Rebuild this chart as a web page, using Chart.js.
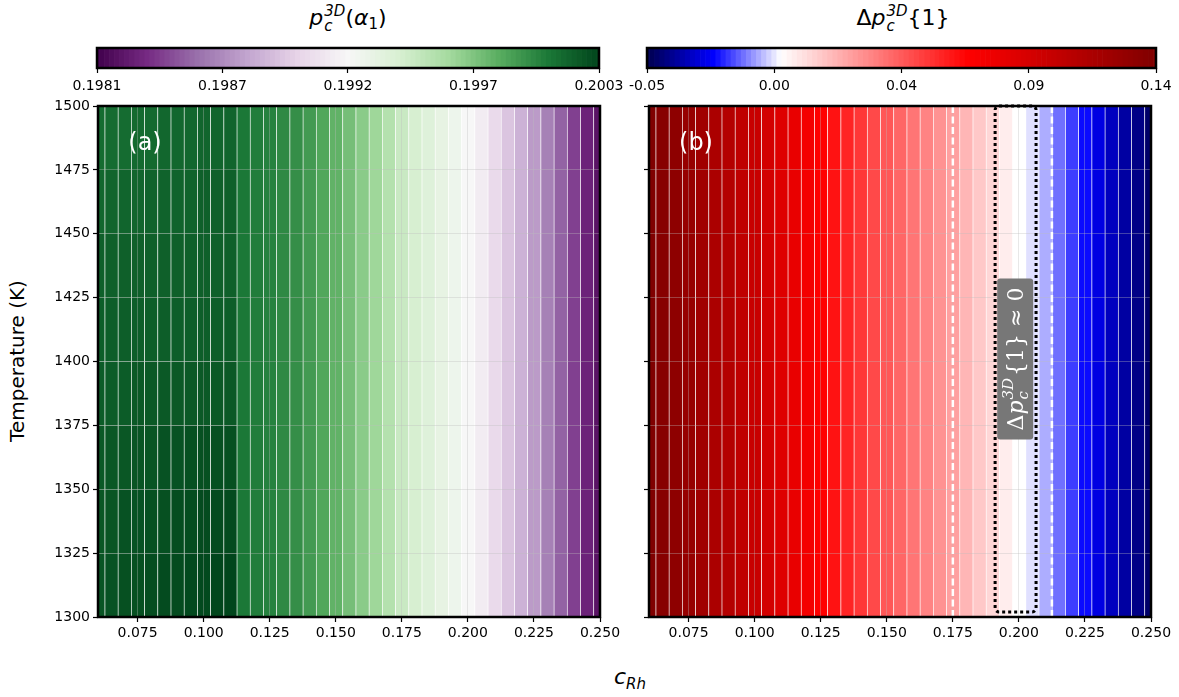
<!DOCTYPE html>
<html>
<head>
<meta charset="utf-8">
<title>p_c 3D maps</title>
<script src="https://cdn.jsdelivr.net/npm/chart.js@4.4.1/dist/chart.umd.min.js"></script>
<style>
  body { margin:0; background:#fff; }
  #page { position:relative; width:1179px; height:697px; overflow:hidden; font-family:"DejaVu Sans", sans-serif; color:#000; }
  #page canvas { position:absolute; }
  .lbl { position:absolute; white-space:nowrap; transform:translateX(-50%); font-size:22px; line-height:1.2; }
  .stk { display:inline-block; vertical-align:-0.42em; font-size:15px; line-height:15px; margin-left:1px; }
  .sb { font-size:15px; vertical-align:-0.3em; }
</style>
</head>
<body>
<div id="page">
  <div class="lbl" style="left:348px;top:4px"><i>p</i><span class="stk"><i>3D</i><br><i>c</i></span>(<i>α</i><span class="sb">1</span>)</div>
  <div class="lbl" style="left:903px;top:4px">Δ<i>p</i><span class="stk"><i>3D</i><br><i>c</i></span>{1}</div>
  <div class="lbl" style="left:17px;top:361px;font-size:20px;transform:translate(-50%,-50%) rotate(-90deg)">Temperature (K)</div>
  <div class="lbl" style="left:630px;top:664px"><i>c</i><span class="sb"><i>Rh</i></span></div>

  <canvas id="cbA" width="600" height="64" style="left:40px;top:38px"></canvas>
  <canvas id="cbB" width="579" height="64" style="left:600px;top:38px"></canvas>
  <canvas id="panA" width="620" height="600" style="left:0px;top:90px"></canvas>
  <canvas id="panB" width="549" height="600" style="left:630px;top:90px"></canvas>
</div>
<script>
// composition grid (c_Rh) shared by both panels
const cRh = [0.060,0.065,0.070,0.075,0.080,0.085,0.090,0.095,0.100,0.105,0.110,
             0.115,0.120,0.125,0.130,0.135,0.140,0.145,0.150,0.155,0.160,0.165,0.170,
             0.175,0.180,0.185,0.190,0.195,0.200,0.205,0.210,0.215,0.220,0.225,0.230,
             0.235,0.240,0.245,0.250];
const tempEdges = [1300,1325,1350,1375,1400,1425,1450,1475,1500];

// (a) p_c^3D(alpha_1): low c_Rh block, one row per temperature band (bottom first), c_Rh 0.060-0.110
const pcLowRows = [
  [0.20023,0.20024,0.20025,0.20025,0.20026,0.20027,0.20027,0.20028,0.20028,0.20029,0.20029],
  [0.20022,0.20023,0.20024,0.20024,0.20025,0.20025,0.20026,0.20026,0.20027,0.20027,0.20027],
  [0.20021,0.20022,0.20022,0.20023,0.20023,0.20024,0.20024,0.20025,0.20025,0.20025,0.20025],
  [0.20020,0.20020,0.20020,0.20021,0.20021,0.20021,0.20021,0.20021,0.20021,0.20021,0.20021],
  [0.20019,0.20019,0.20019,0.20019,0.20019,0.20019,0.20019,0.20019,0.20019,0.20019,0.20019],
  [0.20018,0.20018,0.20018,0.20018,0.20018,0.20018,0.20018,0.20018,0.20018,0.20018,0.20018],
  [0.20015,0.20016,0.20016,0.20016,0.20017,0.20017,0.20017,0.20017,0.20018,0.20018,0.20018],
  [0.20013,0.20013,0.20013,0.20014,0.20014,0.20015,0.20015,0.20015,0.20016,0.20016,0.20016]
];
// (a) c_Rh 0.115-0.250, same for every temperature
const pcHigh = [0.20008,0.20006,0.20004,0.20001,0.19999,0.19994,0.19989,0.19984,0.19978,0.19972,
                0.19966,0.19958,0.19949,0.19943,0.19938,0.19932,0.19927,0.19920,0.19913,0.19902,
                0.19891,0.19882,0.19872,0.19861,0.19850,0.19839,0.19828,0.19820];
// (b) delta p_c^3D{1} along c_Rh
const dpc1 = [0.140,0.136,0.132,0.127,0.122,0.116,0.111,0.105,0.100,0.094,0.088,0.082,0.076,
              0.070,0.065,0.060,0.055,0.050,0.046,0.042,0.038,0.034,0.030,0.026,0.020,0.015,
              0.011,0.005,0.000,-0.003,-0.008,-0.014,-0.019,-0.024,-0.029,-0.034,-0.038,-0.042,-0.046];

const xTicks = [0.075,0.100,0.125,0.150,0.175,0.200,0.225,0.250];
const yTicks = [1300,1325,1350,1375,1400,1425,1450,1475,1500];
const cbTicksA = [0.1981,0.19865,0.1992,0.19975,0.2003];
const cbLabelsA = ['0.1981','0.1987','0.1992','0.1997','0.2003'];
const cbTicksB = [-0.05,-0.0025,0.045,0.0925,0.14];
const cbLabelsB = ['-0.05','0.00','0.04','0.09','0.14'];
const zeroLines = [0.175, 0.2125];
const zeroBoxX = [0.191, 0.2065];
const zeroBoxT = [1302, 1500];
const noteAt = [0.1986, 1401];

// colormaps
const PRGn = ['#40004b','#762a83','#9970ab','#c2a5cf','#e7d4e8','#f7f7f7','#d9f0d3','#a6dba0','#5aae61','#1b7837','#00441b']
  .map(h => [1,3,5].map(i => parseInt(h.substr(i,2),16)));
const seismic = [[0,0,76.5],[0,0,255],[255,255,255],[255,0,0],[127.5,0,0]];
function cmap(stops, t){
  t = Math.max(0, Math.min(1, t));
  const n = stops.length - 1;
  const i = Math.min(n - 1, Math.floor(t * n));
  const f = t * n - i;
  const c = stops[i].map((a, k) => Math.round(a + (stops[i+1][k] - a) * f));
  return 'rgb(' + c.join(',') + ')';
}
const colA = p => cmap(PRGn, (p - 0.1981) / 0.0022);
const colB = v => cmap(seismic, v < 0 ? 0.5 * (v + 0.05) / 0.05 : 0.5 + 0.5 * v / 0.14);

const tickFont = {family:'DejaVu Sans', size:14};
const gridColor = 'rgba(190,190,190,0.35)';
const seam = 'rgba(255,255,255,0.07)';

const framePlugin = {
  id:'frame',
  afterDraw(chart){
    const {ctx, chartArea:a} = chart;
    ctx.save();
    ctx.strokeStyle = '#000'; ctx.lineWidth = 2.5; ctx.setLineDash([]);
    ctx.strokeRect(a.left, a.top, a.right - a.left, a.bottom - a.top);
    ctx.restore();
  }
};
function panelTag(text){
  return {
    id:'tag',
    afterDraw(chart){
      const {ctx, chartArea:a} = chart;
      ctx.save();
      ctx.fillStyle = '#fff'; ctx.font = '24px "DejaVu Sans"';
      ctx.textAlign = 'center'; ctx.textBaseline = 'middle';
      ctx.fillText(text, a.left + 47, a.top + 38);
      ctx.restore();
    }
  };
}

function panelOptions(pad, yWidth, showY){
  return {
    responsive:false, animation:false, events:[],
    layout:{padding:pad},
    plugins:{legend:{display:false}, tooltip:{enabled:false}},
    scales:{
      x:{type:'linear', min:0.06, max:0.25, offset:false,
        afterBuildTicks: s => { s.ticks = xTicks.map(v => ({value:v})); },
        afterFit: s => { s.height = 30; s.paddingLeft = 0; s.paddingRight = 0; },
        grid:{z:1, offset:false, color:gridColor, lineWidth:1, tickLength:5, tickColor:'#000', tickWidth:1.2},
        border:{display:false},
        ticks:{font:tickFont, color:'#000', padding:3, maxRotation:0, autoSkip:false, callback: v => v.toFixed(3)}},
      y:{type:'linear', min:1300, max:1500,
        afterBuildTicks: s => { s.ticks = yTicks.map(v => ({value:v})); },
        afterFit: s => { s.width = yWidth; s.paddingTop = 0; s.paddingBottom = 0; },
        grid:{z:1, color:gridColor, lineWidth:1, tickLength:5, tickColor:'#000', tickWidth:1.2},
        border:{display:false},
        ticks:{display:showY, font:tickFont, color:'#000', padding:3, autoSkip:false, callback: v => String(v)}}
    }
  };
}

// panel (a)
const cellsA = [], colorsA = [];
pcLowRows.forEach((row, r) => row.forEach((p, i) => {
  cellsA.push({x:cRh[i], y:[tempEdges[r], tempEdges[r+1]]});
  colorsA.push(colA(p));
}));
pcHigh.forEach((p, i) => {
  cellsA.push({x:cRh[i + pcLowRows[0].length], y:[1300,1500]});
  colorsA.push(colA(p));
});
new Chart(document.getElementById('panA'), {
  type:'bar',
  data:{datasets:[{data:cellsA, backgroundColor:colorsA, borderColor:seam,
    borderWidth:{left:1, right:0, top:0, bottom:0}, borderSkipped:false,
    barPercentage:1, categoryPercentage:1, grouped:false}]},
  options:panelOptions({left:0, right:20, top:16, bottom:43}, 98, true),
  plugins:[panelTag('(a)'), framePlugin]
});

// panel (b)
const zeroPlugin = {
  id:'zero',
  afterDraw(chart){
    const {ctx, chartArea:a, scales:{x, y}} = chart;
    ctx.save();
    ctx.beginPath(); ctx.rect(a.left, a.top, a.right - a.left, a.bottom - a.top); ctx.clip();
    ctx.strokeStyle = '#fff'; ctx.lineWidth = 2.5; ctx.setLineDash([7,3.5]);
    zeroLines.forEach(v => {
      const px = x.getPixelForValue(v);
      ctx.beginPath(); ctx.moveTo(px, a.top); ctx.lineTo(px, a.bottom); ctx.stroke();
    });
    ctx.restore();
    ctx.save();
    const x0 = x.getPixelForValue(zeroBoxX[0]), x1 = x.getPixelForValue(zeroBoxX[1]);
    const y0 = y.getPixelForValue(zeroBoxT[1]), y1 = y.getPixelForValue(zeroBoxT[0]);
    ctx.strokeStyle = '#000'; ctx.lineWidth = 3; ctx.setLineDash([3,3]);
    ctx.beginPath(); ctx.roundRect(x0, y0, x1 - x0, y1 - y0, 4); ctx.stroke();
    ctx.setLineDash([]);
    // rotated note
    const cx = x.getPixelForValue(noteAt[0]), cy = y.getPixelForValue(noteAt[1]);
    const fN = '22px "DejaVu Serif"', fI = 'italic 22px "DejaVu Serif"', fS = 'italic 15px "DejaVu Serif"';
    ctx.translate(cx, cy); ctx.rotate(-Math.PI / 2);
    ctx.font = fN; const wD = ctx.measureText('Δ').width; const wT = ctx.measureText('{1} ≈ 0').width;
    ctx.font = fI; const wP = ctx.measureText('p').width;
    ctx.font = fS; const wS = ctx.measureText('3D').width;
    const W = wD + wP + wS + 3 + wT;
    ctx.fillStyle = 'rgb(119,119,119)';
    ctx.beginPath(); ctx.roundRect(-W/2 - 9, -18, W + 18, 36, 3); ctx.fill();
    ctx.fillStyle = '#fff'; ctx.textAlign = 'left'; ctx.textBaseline = 'alphabetic';
    let px = -W / 2; const base = 8;
    ctx.font = fN; ctx.fillText('Δ', px, base); px += wD;
    ctx.font = fI; ctx.fillText('p', px, base); px += wP;
    ctx.font = fS; ctx.fillText('3D', px + 1, base - 10); ctx.fillText('c', px + 1, base + 5); px += wS + 3;
    ctx.font = fN; ctx.fillText('{1} ≈ 0', px, base);
    ctx.restore();
  }
};
new Chart(document.getElementById('panB'), {
  type:'bar',
  data:{datasets:[{
    data:cRh.map(c => ({x:c, y:[1300,1500]})),
    backgroundColor:dpc1.map(colB), borderColor:seam,
    borderWidth:{left:1, right:0, top:0, bottom:0}, borderSkipped:false,
    barPercentage:1, categoryPercentage:1, grouped:false}]},
  options:panelOptions({left:0, right:28, top:16, bottom:43}, 19, false),
  plugins:[panelTag('(b)'), zeroPlugin, framePlugin]
});

// colorbars
function colorbar(id, vmin, vmax, ticks, labels, colorOf, pad){
  const steps = [];
  for (let k = 0; k <= 100; k++) steps.push(vmin + (vmax - vmin) * k / 100);
  new Chart(document.getElementById(id), {
    type:'bar',
    data:{datasets:[{data:steps.map(v => ({x:v, y:[0,1]})), backgroundColor:steps.map(colorOf),
      borderWidth:0, barPercentage:1, categoryPercentage:1, grouped:false}]},
    options:{
      responsive:false, animation:false, events:[],
      layout:{padding:pad},
      plugins:{legend:{display:false}, tooltip:{enabled:false}},
      scales:{
        x:{type:'linear', min:vmin, max:vmax, offset:false,
          afterBuildTicks: s => { s.ticks = ticks.map(v => ({value:v})); },
          afterFit: s => { s.height = 34; s.paddingLeft = 0; s.paddingRight = 0; },
          grid:{offset:false, drawOnChartArea:false, tickLength:5, tickColor:'#000', tickWidth:1.2},
          border:{display:false},
          ticks:{font:tickFont, color:'#000', padding:5, maxRotation:0, autoSkip:false, callback:(v, i) => labels[i]}},
        y:{display:false, min:0, max:1}
      }
    },
    plugins:[framePlugin]
  });
}
colorbar('cbA', 0.1981, 0.2003, cbTicksA, cbLabelsA, colA, {left:57, right:41, top:10, bottom:0});
colorbar('cbB', -0.05, 0.14, cbTicksB, cbLabelsB, colB, {left:47, right:23, top:10, bottom:0});
</script>
</body>
</html>
